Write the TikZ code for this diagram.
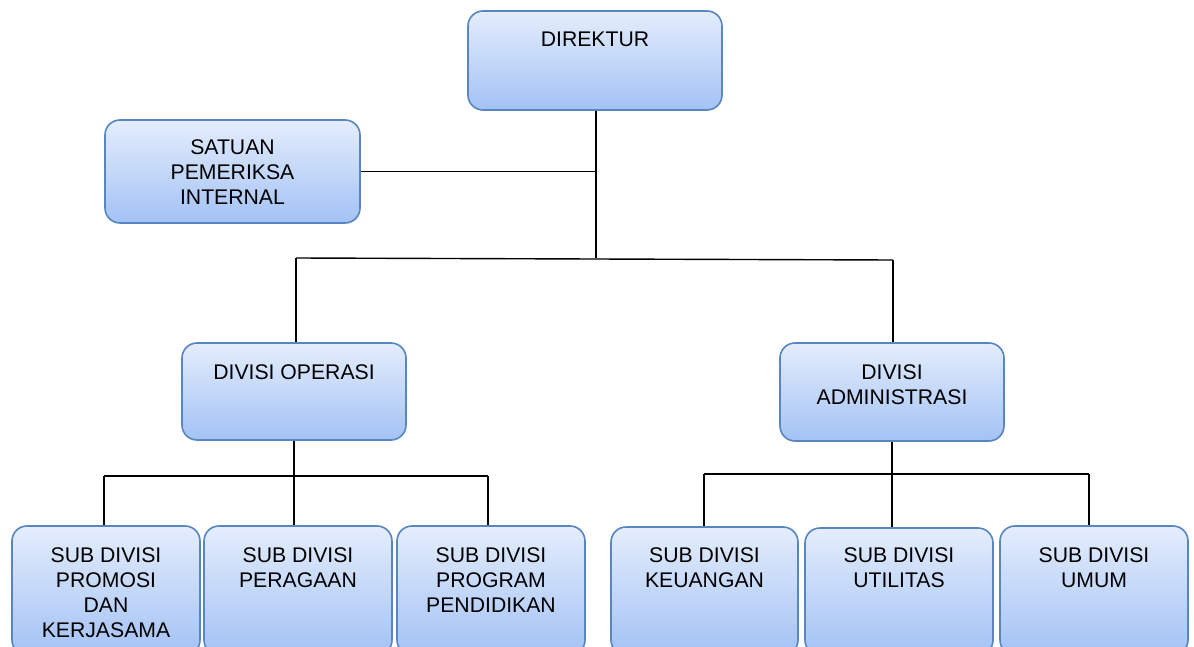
\documentclass[tikz,border=0pt]{standalone}
\usepackage{fontspec}
\setmainfont{Liberation Sans}
\begin{document}
\begin{tikzpicture}[x=1pt,y=-1pt]
\definecolor{boxtop}{RGB}{228,237,252}
\definecolor{boxbot}{RGB}{163,194,245}
\definecolor{boxborder}{RGB}{88,134,192}
\tikzset{
  box/.style={draw=boxborder, line width=1.6pt, rounded corners=15pt, top color=boxtop, bottom color=boxbot, inner sep=0pt},
  txt/.style={font=\fontsize{21.2}{25}\selectfont, align=center, anchor=north, inner sep=0pt},
  conn/.style={line width=1.4pt, black}
}
\useasboundingbox (0,0) rectangle (1194,647);
\clip (0,0) rectangle (1194,647);
% boxes
\node[box, minimum width=254pt, minimum height=99pt] (dir) at (595,60.5) {};
\node[box, minimum width=255pt, minimum height=103pt] (sat) at (232.5,171.5) {};
\node[box, minimum width=224pt, minimum height=97pt] (ops) at (294,391.5) {};
\node[box, minimum width=224pt, minimum height=98pt] (adm) at (892,392) {};
\node[box, minimum width=188pt, minimum height=129pt] (s1) at (106,590.5) {};
\node[box, minimum width=188pt, minimum height=129pt] (s2) at (298,590.5) {};
\node[box, minimum width=188pt, minimum height=129pt] (s3) at (491,590.5) {};
\node[box, minimum width=187pt, minimum height=128pt] (s4) at (704.5,591) {};
\node[box, minimum width=188pt, minimum height=127pt] (s5) at (899,591.5) {};
\node[box, minimum width=188pt, minimum height=129pt] (s6) at (1094,590.5) {};
% texts
\node[txt] (tdir) at (595,32) {DIREKTUR};
\node[txt] (tsat) at (232.5,139) {SATUAN\\PEMERIKSA\\INTERNAL};
\node[txt] (tops) at (294,364) {DIVISI OPERASI};
\node[txt] (tadm) at (892,364) {DIVISI\\ADMINISTRASI};
\node[txt] (ts1) at (106,547) {SUB DIVISI\\PROMOSI\\DAN\\KERJASAMA};
\node[txt] (ts2) at (298,547) {SUB DIVISI\\PERAGAAN};
\node[txt] (ts3) at (491,547) {SUB DIVISI\\PROGRAM\\PENDIDIKAN};
\node[txt] (ts4) at (704.5,547) {SUB DIVISI\\KEUANGAN};
\node[txt] (ts5) at (899,547) {SUB DIVISI\\UTILITAS};
\node[txt] (ts6) at (1094,547) {SUB DIVISI\\UMUM};
% junction coordinates
\coordinate (jtop) at (596,258);
\coordinate (jl) at (296,258);
\coordinate (jr) at (893,260);
\coordinate (jo) at (294,476);
\coordinate (jo1) at (104,476);
\coordinate (jo3) at (488,476);
\coordinate (ja) at (892,474);
\coordinate (ja1) at (704,474);
\coordinate (ja3) at (1089,474);
% connectors
\draw[conn] (dir.south -| jtop) -- (jtop);
\draw[conn] (sat.east) -- (sat.east -| jtop);
\draw[conn] (jl) -- (jr);
\draw[conn] (jl) -- (jl |- ops.north);
\draw[conn] (jr) -- (jr |- adm.north);
\draw[conn] (ops.south) -- (jo);
\draw[conn] (jo1) -- (jo3);
\draw[conn] (jo1) -- (jo1 |- s1.north);
\draw[conn] (jo) -- (jo |- s2.north);
\draw[conn] (jo3) -- (jo3 |- s3.north);
\draw[conn] (adm.south) -- (ja);
\draw[conn] (ja1) -- (ja3);
\draw[conn] (ja1) -- (ja1 |- s4.north);
\draw[conn] (ja) -- (ja |- s5.north);
\draw[conn] (ja3) -- (ja3 |- s6.north);
\end{tikzpicture}
\end{document}
